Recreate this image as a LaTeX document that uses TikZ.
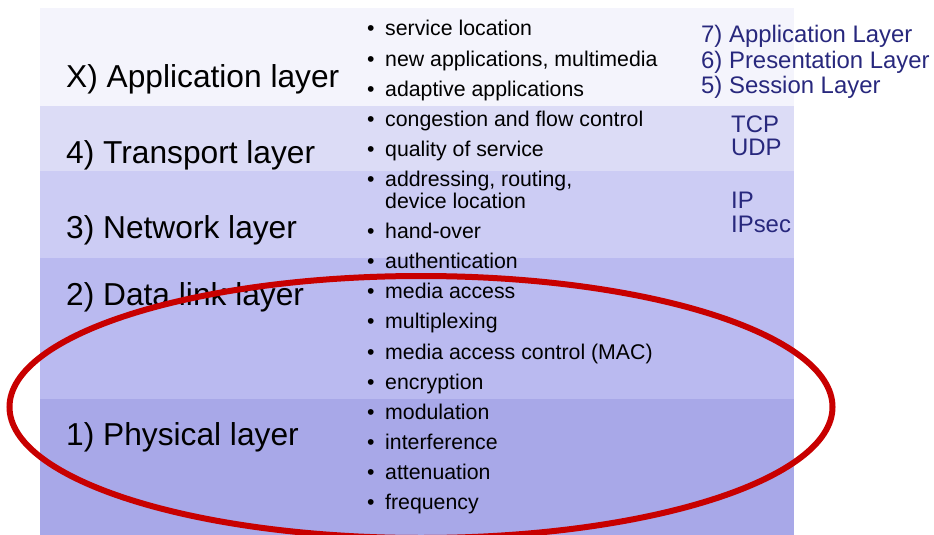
\documentclass[tikz,border=0pt]{standalone}
\usepackage{fontspec}
\setmainfont{Liberation Sans}
\usetikzlibrary{positioning}
\definecolor{cBandApp}{RGB}{244,244,252}
\definecolor{cBandTrans}{RGB}{220,220,246}
\definecolor{cBandNet}{RGB}{204,204,244}
\definecolor{cBandLink}{RGB}{186,186,240}
\definecolor{cBandPhy}{RGB}{168,168,232}
\definecolor{cNavy}{RGB}{40,40,125}
\definecolor{cRing}{RGB}{200,0,0}
\tikzset{
	band/.style     ={rectangle, inner sep=0pt, line width=0.8pt, minimum width=753pt, anchor=north west},
	layername/.style={anchor=base west, inner sep=0pt, font=\fontsize{31.7}{36}\selectfont},
	item/.style     ={anchor=base west, inner sep=0pt, font=\fontsize{21.3}{25}\selectfont},
	osiname/.style  ={anchor=base west, inner sep=0pt, text=cNavy, font=\fontsize{23.9}{26}\selectfont},
	ring/.style     ={draw=cRing, line width=6pt},
}
\begin{document}
\begin{tikzpicture}[x=1pt, y=-1pt]
			\useasboundingbox (0,0) rectangle (934,535);
			% layer bands
			\node[band, fill=cBandApp, draw=cBandApp, minimum height=97pt] (bandapp) at (40,8) {};
			\node[band, fill=cBandTrans, draw=cBandTrans, minimum height=64pt, below=0pt of bandapp.south west, anchor=north west] (bandtrans) {};
			\node[band, fill=cBandNet, draw=cBandNet, minimum height=87pt, below=0pt of bandtrans.south west, anchor=north west] (bandnet) {};
			\node[band, fill=cBandLink, draw=cBandLink, minimum height=140pt, below=0pt of bandnet.south west, anchor=north west] (bandlink) {};
			\node[band, fill=cBandPhy, draw=cBandPhy, minimum height=139pt, below=0pt of bandlink.south west, anchor=north west] (bandphy) {};
			% layer names
			\node[layername] (lapp) at (66,87) {X) Application layer};
			\node[layername] (ltrans) at (66,163) {4) Transport layer};
			\node[layername] (lnet) at (66,238) {3) Network layer};
			\node[layername] (llink) at (66,305) {2) Data link layer};
			\node[layername] (lphy) at (66,445) {1) Physical layer};
			% bullet items
			\foreach \yy/\txt [count=\n] in {36/service location, 66.1/{new applications, multimedia}, 96.2/adaptive applications,
					126.3/congestion and flow control, 156.4/quality of service, 186.5/{addressing, routing,},
					238.6/hand-over, 268.7/authentication, 298.8/media access, 328.9/multiplexing,
					359/media access control (MAC), 389.1/encryption, 419.2/modulation, 449.3/interference,
					479.4/attenuation, 509.5/frequency}
				\node[item] (item\n) at (367,\yy) {\makebox[18pt][l]{\textbullet}\txt};
			\node[item] (item6b) at (385,208.5) {device location};
			% protocols / OSI layers
			\node[osiname] (osi7) at (701,43) {7) Application Layer};
			\node[osiname] (osi6) at (701,68) {6) Presentation Layer};
			\node[osiname] (osi5) at (701,93) {5) Session Layer};
			\node[osiname] (ptcp) at (731,132) {TCP};
			\node[osiname] (pudp) at (731,155) {UDP};
			\node[osiname] (pip) at (731,208) {IP};
			\node[osiname] (pipsec) at (731,232) {IPsec};
			% highlight of the two lower layers
			\draw[ring] (421,407) ellipse [x radius=411.5, y radius=131];
		\end{tikzpicture}
\end{document}
